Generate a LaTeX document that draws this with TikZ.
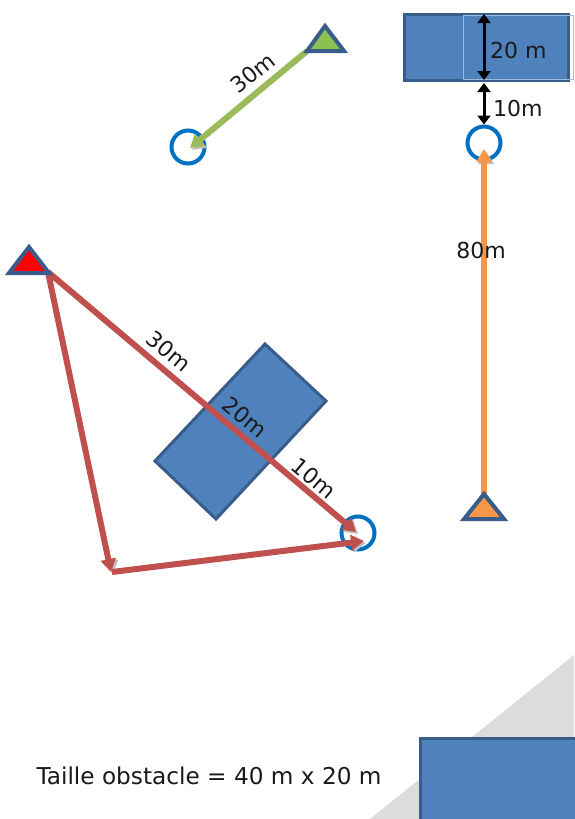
\documentclass[tikz,border=0pt]{standalone}
\usepackage{fontspec}
\setmainfont{DejaVu Sans}
\usetikzlibrary{arrows.meta,shapes.geometric}
\definecolor{obst}{HTML}{4F81BD}
\definecolor{obstb}{HTML}{385D8A}
\definecolor{ringc}{HTML}{0070C0}
\definecolor{grn}{HTML}{9BBB59}
\definecolor{grnf}{HTML}{8CC152}
\definecolor{org}{HTML}{F79646}
\definecolor{rd}{HTML}{C0504D}
\definecolor{bggray}{HTML}{DCDCDC}
\definecolor{txt}{HTML}{1A1A1A}
\begin{document}
\begin{tikzpicture}[x=1pt,y=-1pt,
 ringnode/.style={circle,draw=ringc,line width=4pt,minimum size=33pt,inner sep=0pt},
 lbl/.style={font=\fontsize{22}{22}\selectfont,text=txt,inner sep=1pt},
 route/.style={line width=6pt,-{Triangle[length=13pt,width=15pt]},
   preaction={draw=black!25,transform canvas={shift={(2pt,-2pt)}}}},
 tri/.style={draw=obstb,line width=4pt,line join=miter},
 dimarrow/.style={line width=3pt,{Triangle[length=9pt,width=13pt]}-{Triangle[length=9pt,width=13pt]}},
 obstacle/.style={fill=obst,draw=obstb,line width=3pt},
]
\useasboundingbox (0,0) rectangle (574,819);
\fill[white] (0,0) rectangle (574,819);

% bottom gray band, legend
\fill[bggray] (574,655) -- (370,819) -- (574,819) -- cycle;
\draw[obstacle] (420,738) rectangle (590,830);
\node[font=\fontsize{23.2}{23.2}\selectfont,text=txt] (legend) at (209,776) {Taille obstacle = 40 m x 20 m};

% top-right obstacle with dimensions
\draw[obstacle] (404,14) rectangle (568,80);
\draw[draw=obst!55!white,line width=1pt] (463,15) rectangle (573,79);
\node[ringnode] (oc) at (484,143) {};
\coordinate (d1) at (484,14);
\coordinate (d2) at (484,80);
\coordinate (d3) at (484,83);
\draw[dimarrow] (d1) -- (d2);
\draw[dimarrow] (d3) -- (oc.north);
\node[lbl,anchor=west] (l20) at (489,50) {20 m};
\node[lbl,anchor=west] (l10) at (492,108) {10m};

% orange route
\coordinate (ot) at (484,495);
\draw[route,draw=org] (ot) -- ([yshift=-6pt]oc.center);
\draw[tri,fill=org] (464,519) -- (484,494) -- (504,519) -- cycle;
\node[lbl] (l80) at (481,250) {80m};

% green route
\node[ringnode] (gc) at (188,147) {};
\coordinate (gt) at (307,51);
\draw[route,draw=grn] (gt) -- ([shift={(2,1)}]gc.center);
\draw[tri,fill=grnf] (307,51) -- (325,26) -- (344,51) -- cycle;
\node[lbl,rotate=39] (l30g) at (253,73) {30m};

% tilted obstacle
\draw[obstacle] (265,344) -- (326,401) -- (216,519) -- (155,461) -- cycle;

% red route
\node[ringnode] (rc) at (358,533) {};
\coordinate (rt) at (48,272);
\coordinate (rk) at (111,572);
\draw[route,draw=rd] (rt) -- ([shift={(-2,-1)}]rc.center);
\draw[route,draw=rd] (rt) -- (rk);
\draw[route,draw=rd] ([xshift=1pt]rk) -- ([shift={(6,8)}]rc.center);
\draw[tri,fill=red] (9,273) -- (29,247) -- (49,273) -- cycle;
\node[lbl,rotate=-40] (l30r) at (169,351) {30m};
\node[lbl,rotate=-40] (l20r) at (245,417) {20m};
\node[lbl,rotate=-40] (l10r) at (314,478) {10m};
\end{tikzpicture}
\end{document}
